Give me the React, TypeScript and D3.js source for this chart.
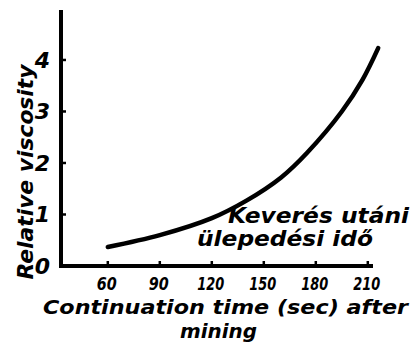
import React from 'react';
import * as d3 from 'd3';

// settling time after mixing (sec) vs relative viscosity
const times = [60, 90, 120, 140, 160, 175, 195, 207, 216];
const viscosity = [0.37, 0.6, 0.93, 1.27, 1.72, 2.2, 3.0, 3.62, 4.23];
const xTicks = [60, 90, 120, 150, 180, 210];
const xTickLabels = ['60', '90', '120', '150', '180', '210'];
const yTicks = [0, 1, 2, 3, 4];

const font = "'DejaVu Sans', sans-serif";

const App = () => {
  const width = 417;
  const height = 349;

  const x = d3.scaleLinear().domain([33, 213]).range([61, 373]);
  const y = d3.scaleLinear().domain([0, 4.97]).range([266, 10]);

  const points: [number, number][] = times.map((t, i) => [t, viscosity[i]]);
  const line = d3.line<[number, number]>()
    .x(d => x(d[0]))
    .y(d => y(d[1]))
    .curve(d3.curveCatmullRom.alpha(0.5));

  const textStyle = { fontFamily: font, fontWeight: 700, fontStyle: 'italic' as const };

  return (
    <svg width={width} height={height} style={{ position: 'absolute', left: 0, top: 0, background: '#fff' }}>
      {/* axes */}
      <line x1={x(33)} x2={x(33)} y1={y(4.97)} y2={y(0) + 2} stroke="#000" strokeWidth={4} />
      <line x1={x(33) - 2} x2={x(213)} y1={y(0)} y2={y(0)} stroke="#000" strokeWidth={4} />

      {yTicks.slice(1).map(t => (
        <line key={t} x1={x(33)} x2={x(33) + 5} y1={y(t)} y2={y(t)} stroke="#000" strokeWidth={2.5} />
      ))}
      {xTicks.map(t => (
        <line key={t} x1={x(t)} x2={x(t)} y1={y(0)} y2={y(0) - 5} stroke="#000" strokeWidth={2.5} />
      ))}

      {/* y tick labels */}
      {yTicks.map(t => (
        <text key={t} x={50} y={y(t) + 8} textAnchor="end" fontSize={22} {...textStyle}>{t}</text>
      ))}

      {/* x tick labels */}
      {xTicks.map((t, i) => (
        <text key={t} x={x(t) - 1} y={290} textAnchor="middle" fontSize={18}
          textLength={xTickLabels[i].length === 2 ? 20 : 27} lengthAdjust="spacingAndGlyphs" {...textStyle}>
          {xTickLabels[i]}
        </text>
      ))}

      {/* curve */}
      <path d={line(points) || ''} fill="none" stroke="#000" strokeWidth={4.5} strokeLinecap="round" />

      {/* annotation */}
      <text x={228} y={223} fontSize={22} textLength={181} lengthAdjust="spacingAndGlyphs" {...textStyle}>Keverés utáni</text>
      <text x={197} y={246} fontSize={22} textLength={176} lengthAdjust="spacingAndGlyphs" {...textStyle}>ülepedési idő</text>

      {/* axis titles */}
      <text x={43} y={314} fontSize={20} textLength={365} lengthAdjust="spacingAndGlyphs" {...textStyle}>
        Continuation time (sec) after
      </text>
      <text x={180} y={338} fontSize={20} textLength={77} lengthAdjust="spacingAndGlyphs" {...textStyle}>mining</text>
      <text transform="translate(33,172) rotate(-90)" textAnchor="middle" fontSize={22}
        textLength={215} lengthAdjust="spacingAndGlyphs" {...textStyle}>
        Relative viscosity
      </text>
    </svg>
  );
};

export default App;
